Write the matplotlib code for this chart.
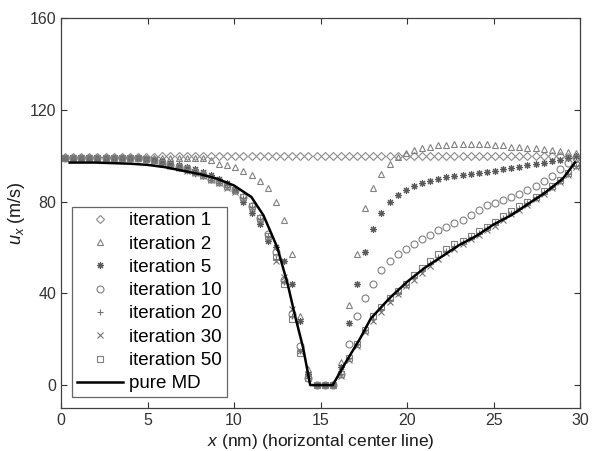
import numpy as np
import matplotlib
matplotlib.use('Agg')
import matplotlib.pyplot as plt

plt.rcParams['font.family'] = ['Liberation Sans', 'DejaVu Sans']
plt.rcParams['mathtext.fontset'] = 'custom'
plt.rcParams['mathtext.it'] = 'Liberation Sans:italic'
plt.rcParams['mathtext.rm'] = 'Liberation Sans'

# sample positions along the centre line (64 cells over 30 nm)
x = np.linspace(0.234, 29.766, 64)

it1 = [99.5, 99.5, 99.5, 99.5, 99.5, 99.5, 99.5, 99.5, 99.5, 99.5,
       99.5, 99.5, 100, 100, 100, 100, 100, 100, 100, 100,
       100, 100, 100, 100, 100, 100, 100, 100, 100, 100,
       100, 100, 100, 100, 100, 100, 100, 100, 100, 100,
       100, 100, 100, 100, 100, 100, 100, 100, 100, 100,
       100, 100, 100, 100, 100, 100, 100, 100, 100, 100,
       100, 100, 99.5, 99.5]

it2 = [99, 99, 99, 99, 99, 99, 99, 99, 99, 99,
       99, 99, 99, 99, 99, 99, 99, 99, 98, 96.5,
       96, 95, 93.5, 91.5, 89, 86, 80, 72, 57, 30,
       7, 0, 0, 0, 10, 35, 57, 77, 86, 92,
       96.5, 99.5, 101, 102.5, 103.5, 104, 104.5, 104.5, 105, 105,
       105, 105, 105, 104.5, 104.5, 104, 104, 103.5, 103.5, 103,
       102.5, 102, 101.5, 101]

it5 = [99, 99, 99, 99, 99, 99, 99, 99, 99, 99,
       98.5, 98, 97.5, 97, 96, 95, 94, 93, 91.5, 90,
       88, 85, 80, 75, 70, 63, 60, 54, 44, 28,
       5, 0, 0, 0, 8, 27, 44, 58, 68, 75,
       80, 83, 85, 87, 88, 89, 90, 90.5, 91, 91.5,
       92, 92.5, 93, 93.5, 94, 94.5, 95, 96, 96.5, 97,
       97.5, 98, 99, 100]

it10 = [99, 99, 99, 99, 99, 99, 99, 99, 99, 99,
        98.5, 98, 97, 96, 95, 94, 93, 91.5, 90, 88.5,
        87, 85, 82, 78, 73, 66, 58, 46, 31, 17,
        3, 0, 0, 0, 5, 18, 30, 38, 44, 50,
        54, 57, 59.5, 61.5, 63.5, 65.5, 67.5, 69, 70.5, 72,
        74, 76.5, 78.5, 79.5, 80.5, 82, 83.5, 85, 87, 89,
        91, 94, 97, 99]

it20 = [99, 99, 99, 99, 99, 99, 99, 99, 99, 99,
        98.5, 97.5, 96.5, 95.5, 94.5, 93.5, 92, 91, 89.5, 88,
        86.5, 84.5, 81.5, 77.5, 72.5, 65, 55, 45, 30, 15,
        3, 0, 0, 0, 5, 12, 18, 24, 29, 33,
        37, 40, 43.5, 47, 50, 53, 56, 58.5, 60.5, 62.5,
        64.5, 66.5, 68.5, 70.5, 73, 75, 77, 79.5, 81.5, 84,
        86.5, 89, 92, 95.5]

it30 = [99, 99, 99, 99, 99, 99, 99, 99, 99, 99,
        98.5, 97.5, 96.5, 95.5, 94.5, 93.5, 92.5, 91, 89.5, 88,
        86, 84, 81, 77, 72, 64, 54, 47, 33, 15,
        4, 0, 0, 0, 4, 11, 17, 23, 28, 32,
        36, 39.5, 43, 46, 49, 52, 55, 57.5, 59.5, 61.5,
        63.5, 65.5, 67.5, 69.5, 72, 74.5, 76.5, 78.5, 81, 83.5,
        86, 88.5, 91.5, 95]

it50 = [99, 99, 99, 99, 99, 99, 99, 99, 99, 99,
        98.5, 98, 97, 96, 95, 94, 93, 91.5, 90, 88.5,
        87, 85, 82, 78, 73, 65, 56, 44, 29, 14,
        3, 0, 0, 0, 5, 12, 18, 24, 30, 34,
        38, 41, 44, 48, 51, 54, 57, 59.5, 61.5, 63,
        65, 67, 69, 71, 73.5, 76, 78, 80, 82, 84.5,
        87, 89.5, 92.5, 96]

# pure MD profile
md_x = [0.5, 2, 4, 5, 6, 7, 8, 9, 10, 11, 11.7, 12.5, 13.1, 13.5, 14, 14.4,
        15.7, 16.5, 17.3, 17.9, 19, 20, 21, 22, 23, 24, 25, 26, 27, 28, 29, 29.7]
md_y = [97, 97, 96.5, 96, 95, 93.5, 92, 90, 87, 82, 74, 60, 44, 31, 16, 0,
        0, 10.5, 20.5, 29, 38, 45, 51, 56, 61, 65, 70, 74, 79, 84, 90, 97]

fig = plt.figure(figsize=(5.92, 4.51), dpi=100)
ax = fig.add_axes([0.103, 0.0953, 0.877, 0.8647])

gray = '0.45'
ms = 4.5
ax.plot(x, it1, ls='none', marker='D', ms=ms - 0.5, mfc='none', mec='0.55', mew=0.8, label='iteration 1')
ax.plot(x, it2, ls='none', marker='^', ms=ms + 0.5, mfc='none', mec='0.5', mew=0.8, label='iteration 2')
ax.plot(x, it5, ls='none', marker=(8, 2, 0), ms=ms + 0.5, mfc='none', mec='0.35', mew=0.8, label='iteration 5')
ax.plot(x, it10, ls='none', marker='o', ms=ms + 0.5, mfc='none', mec='0.5', mew=0.8, label='iteration 10')
ax.plot(x, it20, ls='none', marker='+', ms=ms + 0.5, mfc='none', mec=gray, mew=0.8, label='iteration 20')
ax.plot(x, it30, ls='none', marker='x', ms=ms, mfc='none', mec=gray, mew=0.8, label='iteration 30')
ax.plot(x, it50, ls='none', marker='s', ms=ms, mfc='none', mec='0.5', mew=0.8, label='iteration 50')
ax.plot(md_x, md_y, color='black', lw=1.8, label='pure MD')

ax.set_xlim(0, 30)
ax.set_ylim(-10, 160)
ax.set_xticks([0, 5, 10, 15, 20, 25, 30])
ax.set_yticks([0, 40, 80, 120, 160])
ax.tick_params(direction='in', top=True, right=True, labelsize=11.5, length=4, width=0.8, colors='0.2')
for s in ax.spines.values():
    s.set_color('0.25')
    s.set_linewidth(0.9)

ax.set_xlabel('$x$ (nm) (horizontal center line)', fontsize=12.5, color='0.1', labelpad=3)
ax.set_ylabel('$u_x$ (m/s)', fontsize=13, color='0.1', labelpad=2)

leg = ax.legend(loc='lower left', bbox_to_anchor=(0.021, 0.028), fontsize=13.5, numpoints=1,
                frameon=True, fancybox=False, edgecolor='0.4', framealpha=1,
                labelspacing=0.33, handlelength=2.5, handletextpad=0.3, borderpad=0.25,
                borderaxespad=0)
leg.get_frame().set_linewidth(0.9)

fig.savefig('out.png', dpi=100)
